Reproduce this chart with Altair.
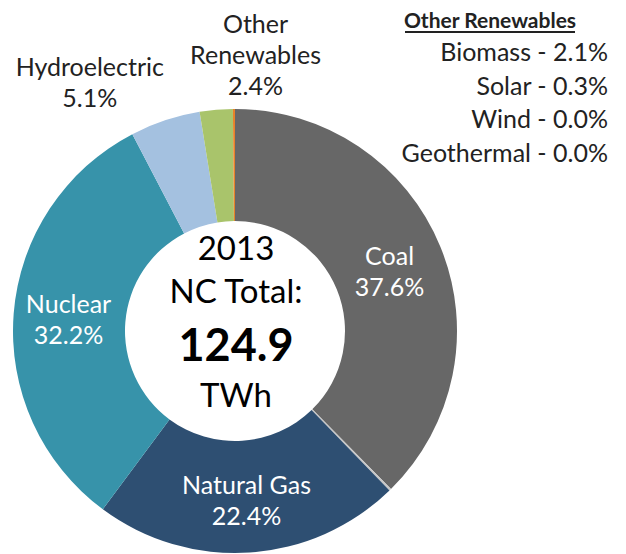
import altair as alt
import pandas as pd

# ---- data ----
sources = ["Coal", "Petroleum", "Natural Gas", "Nuclear", "Hydroelectric", "Other Renewables", "Other"]
shares = [37.6, 0.15, 22.4, 32.2, 5.1, 2.4, 0.15]
colors = ["#676767", "#C8C8C8", "#2E4F72", "#3793AA", "#A4C1E0", "#A9C46B", "#E8822A"]

other_items = ["Biomass", "Solar", "Wind", "Geothermal"]
other_shares = [2.1, 0.3, 0.0, 0.0]
other_title = "Other Renewables"

center_year = "2013"
center_label = "NC Total:"
center_total = 124.9
center_unit = "TWh"

FONT = "Lato"
FS = 25
LH = 31
total = sum(shares)

df = pd.DataFrame({"source": sources, "share": shares, "order": list(range(len(sources)))})

CX, CY = 227, 323
R_OUT, R_IN = 222, 110

theta_scale = alt.Scale(domain=[0, total])

arcs = alt.Chart(df).mark_arc(innerRadius=R_IN, outerRadius=R_OUT, stroke=None).encode(
    theta=alt.Theta("share:Q", stack=True, scale=theta_scale),
    color=alt.Color("source:N", scale=alt.Scale(domain=sources, range=colors), legend=None),
    order=alt.Order("order:Q"),
    x=alt.value(CX),
    y=alt.value(CY),
)


def slice_label(name, radius, color, dx=0, dy=0, sep="\n"):
    joiner = "\\n" if sep == "\n" else " "
    return (
        alt.Chart(df)
        .transform_window(cum="sum(share)", sort=[alt.SortField("order")], frame=[None, 0])
        .transform_calculate(
            mid="datum.cum - datum.share / 2",
            txt=f"datum.source + '{joiner}' + format(datum.share, '.1f') + '%'",
        )
        .transform_filter(alt.datum.source == name)
        .mark_text(
            font=FONT, fontSize=FS, color=color, lineBreak=sep, lineHeight=LH,
            align="center", baseline="middle", dx=dx, dy=dy,
        )
        .encode(
            theta=alt.Theta("mid:Q", scale=theta_scale),
            radius=alt.value(radius),
            text="txt:N",
            x=alt.value(CX),
            y=alt.value(CY),
        )
    )


labels = [
    slice_label("Coal", 166, "white", dx=1, dy=-11),
    slice_label("Natural Gas", 175, "white", dy=-20),
    slice_label("Nuclear", 167, "white", dy=-13),
    slice_label("Hydroelectric", 280, "#222222", dx=-57, dy=3),
    slice_label("Other Renewables", 277, "#222222", dx=44, dy=-30, sep=" "),
]

center_df = pd.DataFrame({"k": [0]})
center_parts = []
for txt, size, weight, yy in [
    (center_year, 33, "normal", 242),
    (center_label, 33, "normal", 285),
    (f"{center_total:.1f}", 45, "bold", 339),
    (center_unit, 33, "normal", 389),
]:
    center_parts.append(
        alt.Chart(center_df).mark_text(
            font=FONT, fontSize=size, fontWeight=weight, color="black", align="center", baseline="middle"
        ).encode(x=alt.value(CX + 1), y=alt.value(yy), text=alt.value(txt))
    )

legend_df = pd.DataFrame({"item": other_items, "share": other_shares, "order": list(range(len(other_items)))})
legend_rows = (
    alt.Chart(legend_df)
    .transform_calculate(txt="datum.item + ' - ' + format(datum.share, '.1f') + '%'")
    .mark_text(font=FONT, fontSize=FS, color="#222222", align="right", baseline="middle")
    .encode(
        x=alt.value(600),
        y=alt.Y("order:Q", scale=alt.Scale(domain=[0, 3], range=[45, 146]), axis=None),
        text="txt:N",
    )
)

legend_title = alt.Chart(center_df).mark_text(
    font=FONT, fontSize=21, fontWeight="bold", color="#222222", align="center", baseline="alphabetic"
).encode(x=alt.value(482), y=alt.value(20), text=alt.value(other_title))

underline = alt.Chart(center_df).mark_rule(color="#222222", strokeWidth=2).encode(
    x=alt.value(397), x2=alt.value(567), y=alt.value(24)
)

chart = alt.layer(arcs, *labels, *center_parts, legend_rows, legend_title, underline).properties(
    width=610, height=546, padding=0, autosize=alt.AutoSizeParams(type="none")
).configure_view(stroke=None)

chart.save("out.html", embed_options={"renderer": "svg", "actions": False})
